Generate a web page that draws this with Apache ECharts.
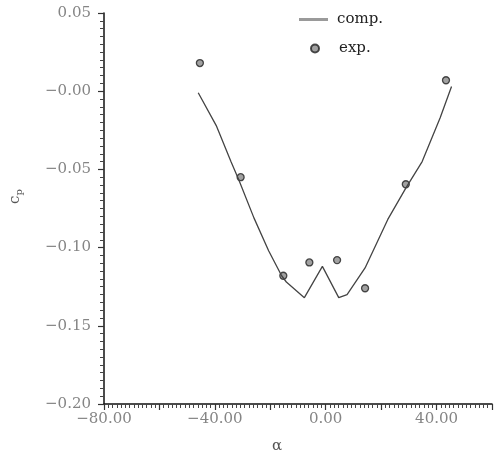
<!DOCTYPE html>
<html>
<head>
<meta charset="utf-8">
<script src="https://cdn.jsdelivr.net/npm/echarts@6/dist/echarts.min.js"></script>
<style>
    html, body { margin: 0; padding: 0; background: #fff; }
    #chart { width: 495px; height: 454px; }
</style>
</head>
<body>
<div id="chart"></div>
<script>
// computed curve (comp.)
var compAlpha = [-46.0, -39.5, -34.2, -31.3, -25.9, -20.6, -15.9, -14.2, -7.7, -1.2, 4.7, 7.7, 14.2, 22.4, 28.9, 34.8, 41.3, 45.4];
var compCp = [-0.001, -0.022, -0.045, -0.057, -0.081, -0.102, -0.118, -0.122, -0.132, -0.112, -0.132, -0.130, -0.113, -0.082, -0.062, -0.045, -0.017, 0.003];

// experiment points (exp.)
var expAlpha = [-45.4, -30.7, -15.3, -5.9, 4.1, 14.2, 28.9, 43.4];
var expCp = [0.018, -0.055, -0.118, -0.1095, -0.108, -0.126, -0.0595, 0.007];

// axis labels shown
var xLabelValues = [-80, -40, 0, 40];
var seriesNames = ['comp.', 'exp.'];

var font = 'DejaVu Serif, Liberation Serif, serif';

function minus(s) {
    return s.replace('-', '\u2212');
}

function pairs(xs, ys) {
    var out = [];
    for (var i = 0; i < xs.length; i++) {
        out.push([xs[i], ys[i]]);
    }
    return out;
}

var myChart = echarts.init(document.getElementById('chart'));

var option = {
    animation: false,
    backgroundColor: '#fff',
    // 图例: 分成两个, 让散点图标小一点
    legend: [{
        left: 294,
        top: 7,
        itemWidth: 29,
        itemHeight: 3,
        selectedMode: false,
        data: [{ name: seriesNames[0], icon: 'rect' }],
        itemStyle: { color: '#9a9a9a' },
        textStyle: { fontFamily: font, fontSize: 15, color: '#222', padding: [0, 0, 0, 4] }
    }, {
        left: 305,
        top: 36,
        itemWidth: 8,
        itemHeight: 8,
        selectedMode: false,
        data: [seriesNames[1]],
        textStyle: { fontFamily: font, fontSize: 15, color: '#222', padding: [0, 0, 0, 15] }
    }],
    grid: {
        left: 104,
        top: 13,
        right: -5,
        bottom: 50,
        containLabel: false
    },
    xAxis: {
        type: 'value',
        min: -80,
        max: 60,
        interval: 20,
        axisLine: { onZero: false, lineStyle: { color: '#111', width: 1.5 } },
        axisTick: { length: 6, lineStyle: { color: '#333', width: 1.2 } },
        minorTick: { show: true, splitNumber: 13, length: 4, lineStyle: { color: '#444', width: 1 } },
        splitLine: { show: false },
        axisLabel: {
            margin: 8,
            fontFamily: font,
            fontSize: 15,
            color: '#858585',
            formatter: function (v) {
                if (xLabelValues.indexOf(Math.round(v)) < 0) return '';
                return minus(v.toFixed(2));
            }
        }
    },
    yAxis: {
        type: 'value',
        min: -0.2,
        max: 0.05,
        interval: 0.05,
        axisLine: { onZero: false, lineStyle: { color: '#111', width: 1.5 } },
        axisTick: { length: 6, lineStyle: { color: '#333', width: 1.2 } },
        minorTick: { show: true, splitNumber: 10, length: 4, lineStyle: { color: '#444', width: 1 } },
        splitLine: { show: false },
        axisLabel: {
            margin: 13,
            fontFamily: font,
            fontSize: 15,
            color: '#858585',
            formatter: function (v) {
                if (Math.abs(v) < 1e-9) return '\u22120.00';
                return minus(v.toFixed(2));
            }
        }
    },
    graphic: [{
        type: 'text',
        x: 6,
        y: 204,
        rotation: Math.PI / 2,
        style: {
            text: 'c{sub|p}',
            fontFamily: font,
            fontSize: 15,
            fill: '#555',
            rich: {
                sub: { fontFamily: font, fontSize: 10, fill: '#555', verticalAlign: 'bottom', padding: [8, 0, 0, 0] }
            }
        }
    }, {
        type: 'text',
        left: 272,
        top: 439,
        style: {
            text: '\u03b1',
            fontFamily: font,
            fontSize: 15,
            fill: '#555'
        }
    }],
    series: [{
        name: seriesNames[0],
        type: 'line',
        symbol: 'none',
        lineStyle: { color: '#444', width: 1.3 },
        itemStyle: { color: '#9a9a9a' },
        data: pairs(compAlpha, compCp)
    }, {
        name: seriesNames[1],
        type: 'scatter',
        symbol: 'circle',
        symbolSize: 7,
        itemStyle: { color: '#8a8a8a', borderColor: '#222', borderWidth: 1.3 },
        data: pairs(expAlpha, expCp)
    }]
};

myChart.setOption(option);
</script>
</body>
</html>
